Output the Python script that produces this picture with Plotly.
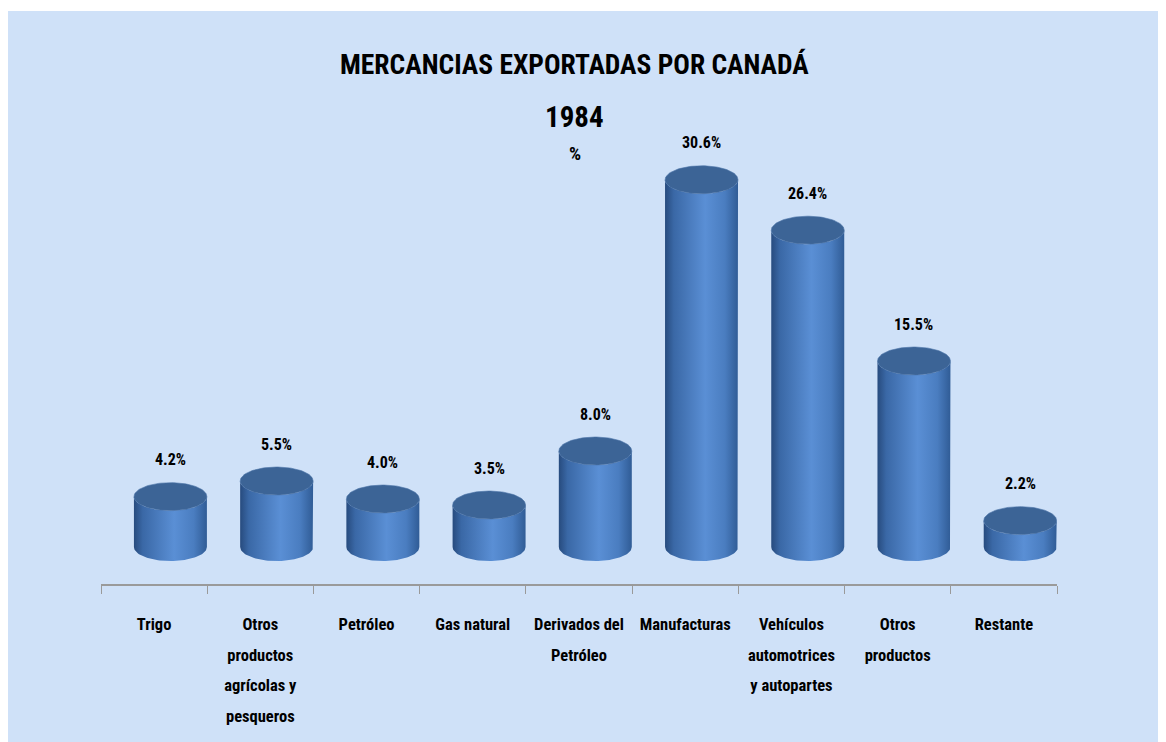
import numpy as np
import plotly.graph_objects as go

# ---------------- data ----------------
categories = [
    "Trigo",
    "Otros<br>productos<br>agrícolas y<br>pesqueros",
    "Petróleo",
    "Gas natural",
    "Derivados del<br>Petróleo",
    "Manufacturas",
    "Vehículos<br>automotrices<br>y autopartes",
    "Otros<br>productos",
    "Restante",
]
values = [4.2, 5.5, 4.0, 3.5, 8.0, 30.6, 26.4, 15.5, 2.2]
value_labels = [f"{v:.1f}%" for v in values]

title_text = "MERCANCIAS EXPORTADAS POR CANADÁ"
year_text = "1984"
unit_text = "%"

# ---------------- layout / style ----------------
W, H = 1158, 734
ML, MR, MT, MB = 93, 109, 112, 158
Y_RANGE = [-3.08, 35.58]
PX_PER_Y = (H - MT - MB) / (Y_RANGE[1] - Y_RANGE[0])

BAR_W = 0.687           # category units
BAR_OFF = -0.19         # left edge relative to category centre
ELL_RY = 14 / PX_PER_Y  # ellipse half height in y units
FONT = "Liberation Sans Narrow, Arial Narrow, Roboto Condensed, DejaVu Sans Condensed, Liberation Sans, sans-serif"
BG = "#cfe1f8"
TOP_COLOR = "#3c6496"
BODY_SCALE = [[0, "#274b7e"], [0.12, "#3a68a6"], [0.55, "#5a8fd5"],
              [0.82, "#4a7dc0"], [1, "#305c96"]]
AXIS_COLOR = "#9a9a9a"
LABEL_SIZE = 16.5


def tick_label(text):
    # each line in a smaller span so that the line pitch follows the larger base font
    return "<br>".join(f"<span style='font-size:{LABEL_SIZE}px'><b>{ln}</b></span>"
                       for ln in text.split("<br>"))


fig = go.Figure()
t = np.linspace(0, np.pi, 60)
tf = np.linspace(0, 2 * np.pi, 120)

for i, v in enumerate(values):
    a = BAR_W / 2
    xc = i + BAR_OFF + a
    xl, xr = xc - a, xc + a
    # body: left side up, front arc of top, right side down, front arc of bottom
    bx = np.concatenate([[xl, xl], xc - a * np.cos(t), [xr, xr], xc + a * np.cos(t)])
    by = np.concatenate([[0, v], v - ELL_RY * np.sin(t), [v, 0], 0 - ELL_RY * np.sin(t)])
    fig.add_trace(go.Scatter(
        x=bx, y=by, mode="lines", fill="toself", line=dict(width=0),
        fillgradient=dict(type="horizontal", colorscale=BODY_SCALE, start=xl, stop=xr),
        hoverinfo="skip", showlegend=False))
    # top ellipse
    fig.add_trace(go.Scatter(
        x=xc + a * np.cos(tf), y=v + ELL_RY * np.sin(tf), mode="lines", fill="toself",
        fillcolor=TOP_COLOR, line=dict(width=0.6, color="#4a72a6"),
        hoverinfo="skip", showlegend=False))
    fig.add_annotation(x=xc, y=v, text=f"<b>{value_labels[i]}</b>", showarrow=False,
                       yshift=37, font=dict(family=FONT, size=16, color="black"),
                       xanchor="center", yanchor="middle")

plot_w = W - ML - MR
plot_h = H - MT - MB


def px_to_paper_x(px):
    return (px - ML) / plot_w


def px_to_paper_y(py):
    return (H - MB - py) / plot_h


# background panel (thin white strip at the very top)
fig.add_shape(type="rect", xref="paper", yref="paper", layer="below",
              x0=px_to_paper_x(-2), x1=px_to_paper_x(W + 20),
              y0=px_to_paper_y(H + 20), y1=px_to_paper_y(3),
              fillcolor=BG, line=dict(width=0))

fig.add_annotation(xref="paper", yref="paper", x=px_to_paper_x(566), y=px_to_paper_y(38),
                   text=f"<b>{title_text}</b>", showarrow=False,
                   font=dict(family=FONT, size=27.5, color="black"))
fig.add_annotation(xref="paper", yref="paper", x=px_to_paper_x(566), y=px_to_paper_y(90),
                   text=f"<b>{year_text}</b>", showarrow=False,
                   font=dict(family=FONT, size=29, color="black"))
fig.add_annotation(xref="paper", yref="paper", x=px_to_paper_x(567), y=px_to_paper_y(132),
                   text=f"<b>{unit_text}</b>", showarrow=False,
                   font=dict(family=FONT, size=19, color="black"))

fig.update_layout(
    width=W, height=H,
    margin=dict(l=ML, r=MR, t=MT, b=MB),
    paper_bgcolor="white",
    plot_bgcolor="rgba(0,0,0,0)",
    showlegend=False,
    xaxis=dict(
        range=[-0.5, 8.5], tickmode="array", tickvals=list(range(len(categories))),
        ticktext=[tick_label(c) for c in categories], ticks="",
        showline=True, linecolor=AXIS_COLOR, linewidth=2,
        showgrid=False, zeroline=False, fixedrange=True,
        tickfont=dict(family=FONT, size=23.5, color="black"),
        ticklabelstandoff=16,
        minor=dict(tickmode="array", tickvals=[k - 0.5 for k in range(len(categories) + 1)],
                   ticks="outside", ticklen=8, tickcolor=AXIS_COLOR, tickwidth=1,
                   showgrid=False),
    ),
    yaxis=dict(range=Y_RANGE, visible=False, fixedrange=True),
)

fig.write_html("out.html")
